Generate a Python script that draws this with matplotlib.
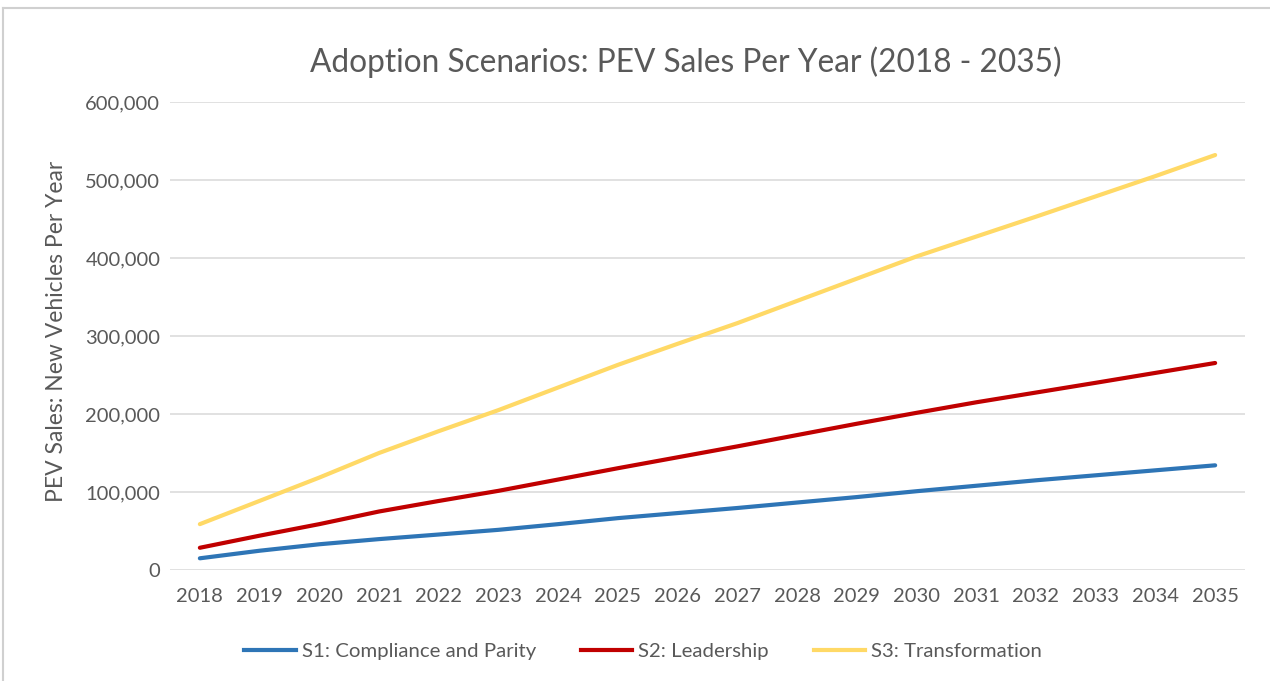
import matplotlib
matplotlib.use("Agg")
import matplotlib.pyplot as plt
from matplotlib.ticker import FuncFormatter, MultipleLocator
from matplotlib.lines import Line2D

years = list(range(2018, 2036))
s1_compliance = [15000, 24700, 33000, 39600, 45500, 51500, 58800, 66500, 73000, 79500,
                 86500, 93500, 101000, 108000, 115000, 121400, 127800, 134200]
s2_leadership = [28500, 44000, 58800, 75000, 88500, 101500, 116000, 130500, 144500, 158500,
                 173000, 187500, 201500, 215000, 227500, 240000, 252700, 265400]
s3_transformation = [58800, 88600, 118500, 150000, 178000, 205000, 234000, 263000, 290000, 316500,
                     345000, 373500, 402000, 427500, 453000, 479000, 505000, 532000]
series_names = ["S1: Compliance and Parity", "S2: Leadership", "S3: Transformation"]
colors = ["#2E75B6", "#C00000", "#FFD966"]

title = "Adoption Scenarios: PEV Sales Per Year (2018 - 2035)"
ylabel = "PEV Sales: New Vehicles Per Year"

plt.rcParams['font.family'] = ['Lato', 'DejaVu Sans']
txt = "#595959"

W, H = 1270, 681
fig = plt.figure(figsize=(W / 100, H / 100), dpi=100)
ax = fig.add_axes([170 / W, 1 - 570 / H, (1245 - 170) / W, (570 - 102) / H])

for vals, name, c in zip([s1_compliance, s2_leadership, s3_transformation], series_names, colors):
    ax.plot(years, vals, color=c, lw=3, solid_capstyle='round', label=name, zorder=3)

ax.set_xlim(2017.5, 2035.5)
ax.set_ylim(0, 600000)
ax.yaxis.set_major_locator(MultipleLocator(100000))
ax.yaxis.set_major_formatter(FuncFormatter(lambda v, p: f"{int(v):,}"))
ax.set_xticks(years)
ax.set_xticklabels([str(y) for y in years])
ax.grid(axis='y', color="#D9D9D9", lw=1.1, zorder=0)
for s in ax.spines.values():
    s.set_visible(False)
ax.tick_params(axis='both', length=0, labelsize=14.5, labelcolor=txt)
ax.tick_params(axis='y', pad=7)
ax.tick_params(axis='x', pad=13)

fig.text(57 / W, 1 - 331 / H, ylabel, rotation=90, ha='center', va='center', fontsize=16.5, color=txt)
fig.text(686 / W, 1 - 62 / H, title, ha='center', va='center', fontsize=22.8, color=txt)

handles = [Line2D([], [], color=c, lw=3) for c in colors]
fig.legend(handles, series_names, loc='center', bbox_to_anchor=(643 / W, 1 - 651 / H), ncol=3,
           frameon=False, fontsize=14.7, handlelength=2.5, handletextpad=0.3, columnspacing=2.2,
           labelcolor=txt)

# outer chart border (top and left visible)
fig.add_artist(Line2D([3 / W, 1], [1 - 8 / H, 1 - 8 / H], color="#D0D0D0", lw=1.5, transform=fig.transFigure))
fig.add_artist(Line2D([3 / W, 3 / W], [0, 1 - 8 / H], color="#D0D0D0", lw=1.5, transform=fig.transFigure))

fig.savefig("out.png", dpi=100)
